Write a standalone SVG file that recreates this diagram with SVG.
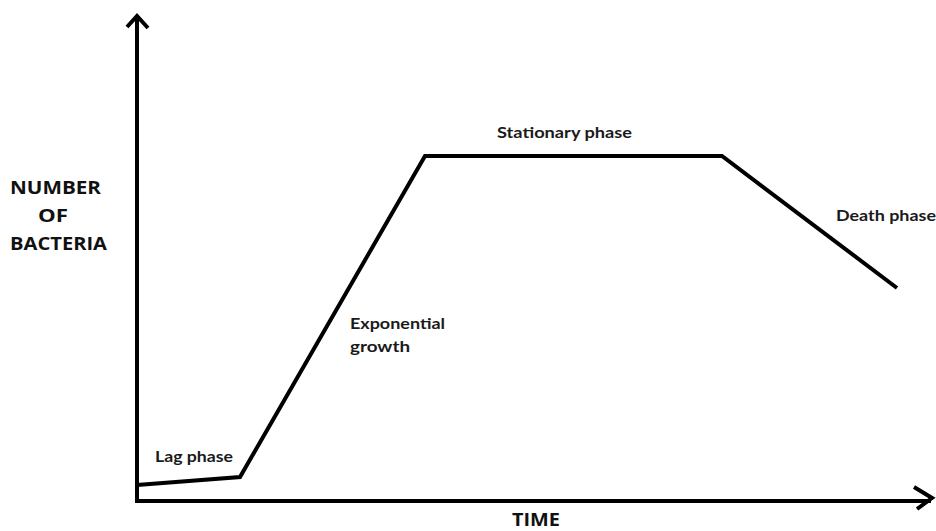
<svg xmlns="http://www.w3.org/2000/svg" width="936" height="531" viewBox="0 0 936 531">
<style>
.lbl{font-family:Lato,"Open Sans","Liberation Sans",sans-serif;font-weight:bold;fill:#1a1a1a;font-size:15px}
.ax{font-family:"Open Sans",Lato,"Liberation Sans",sans-serif;font-weight:bold;fill:#111;font-size:17px}
.line{fill:none;stroke:#000;stroke-width:4;stroke-linejoin:miter;stroke-linecap:butt}
</style>
<rect width="936" height="531" fill="#fff"/>
<g id="axes">
<path class="line" d="M137,18 V501 H931"/>
<path class="line" d="M127,27 L137,16 L148,28"/>
<path class="line" d="M914,487 L932,498 L917,509"/>
</g>
<g id="connectors">
<path class="line" stroke-width="3.5" d="M137,485 L240,477 L425,156 L722,156 L897,288"/>
</g>
<g id="y-label">
<text class="ax" x="10" y="194" textLength="91" lengthAdjust="spacingAndGlyphs">NUMBER</text>
<text class="ax" x="38" y="222" textLength="30" lengthAdjust="spacingAndGlyphs">OF</text>
<text class="ax" x="10" y="250" textLength="97" lengthAdjust="spacingAndGlyphs">BACTERIA</text>
</g>
<g id="x-label">
<text class="ax" x="512" y="526" textLength="48" lengthAdjust="spacingAndGlyphs">TIME</text>
</g>
<g id="lag"><text class="lbl" x="155" y="462" textLength="78" lengthAdjust="spacingAndGlyphs">Lag phase</text></g>
<g id="exp">
<text class="lbl" x="350" y="329" textLength="95" lengthAdjust="spacingAndGlyphs">Exponential</text>
<text class="lbl" x="350" y="352" textLength="60" lengthAdjust="spacingAndGlyphs">growth</text>
</g>
<g id="stat"><text class="lbl" x="497" y="138" textLength="135" lengthAdjust="spacingAndGlyphs">Stationary phase</text></g>
<g id="death"><text class="lbl" x="836" y="221" textLength="100" lengthAdjust="spacingAndGlyphs">Death phase</text></g>
</svg>
